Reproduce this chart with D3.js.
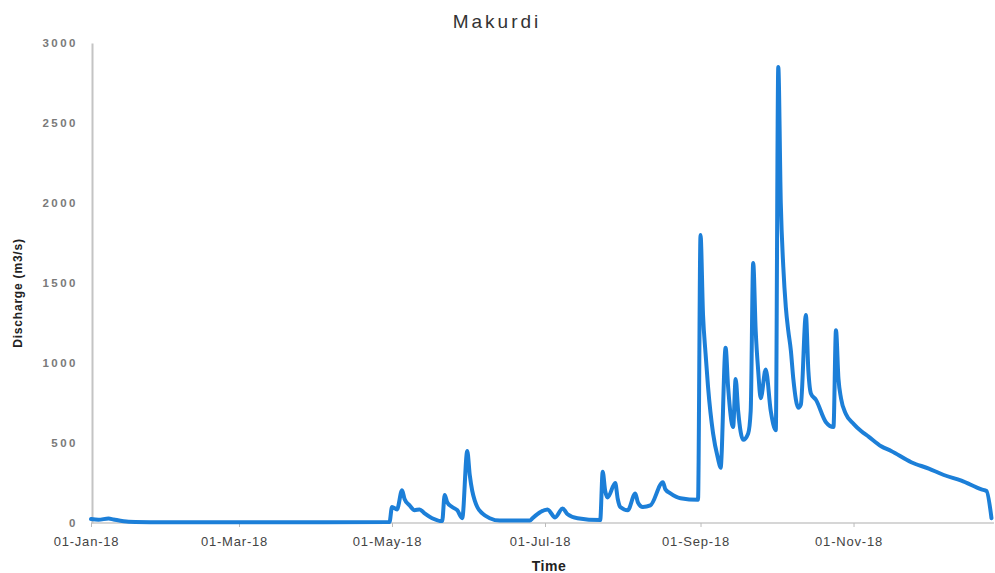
<!DOCTYPE html>
<html><head><meta charset="utf-8">
<script src="https://cdn.jsdelivr.net/npm/d3@7"></script>
<style>
body{margin:0;background:#fff;}
svg{display:block;}
</style></head>
<body><svg id="c" width="995" height="573"></svg>
<script>
const title = "Makurdi";
const yLabel = "Discharge (m3/s)";
const xLabel = "Time";
const yTicks = [0, 500, 1000, 1500, 2000, 2500, 3000];
const xTickDates = ["2018-01-01","2018-03-01","2018-05-01","2018-07-01","2018-09-01","2018-11-01"];
const dates = [
 "2018-01-01","2018-01-04","2018-01-08","2018-01-10","2018-01-16","2018-01-28","2018-03-01","2018-04-01","2018-04-30",
 "2018-05-01","2018-05-03","2018-05-05","2018-05-06","2018-05-08","2018-05-10","2018-05-12","2018-05-14","2018-05-17","2018-05-21","2018-05-22",
 "2018-05-23","2018-05-25","2018-05-27","2018-05-29","2018-05-31","2018-06-01","2018-06-02","2018-06-03","2018-06-04","2018-06-06","2018-06-09","2018-06-13",
 "2018-06-25","2018-06-26","2018-07-02","2018-07-05","2018-07-08","2018-07-10","2018-07-14","2018-07-23","2018-07-24","2018-07-25","2018-07-26",
 "2018-07-29","2018-07-30","2018-07-31","2018-08-03","2018-08-06","2018-08-07","2018-08-09","2018-08-12","2018-08-17","2018-08-18","2018-08-20","2018-08-24",
 "2018-08-31","2018-09-01","2018-09-02","2018-09-03","2018-09-04","2018-09-06","2018-09-08","2018-09-09","2018-09-11","2018-09-12","2018-09-14","2018-09-15","2018-09-16","2018-09-18",
 "2018-09-20","2018-09-21","2018-09-22","2018-09-23","2018-09-24","2018-09-25","2018-09-27","2018-09-29","2018-10-01","2018-10-02","2018-10-03","2018-10-04",
 "2018-10-05","2018-10-06","2018-10-07","2018-10-08","2018-10-10","2018-10-11","2018-10-13","2018-10-14","2018-10-15","2018-10-17","2018-10-21","2018-10-24",
 "2018-10-25","2018-10-26","2018-10-27","2018-10-29","2018-11-01","2018-11-04","2018-11-07","2018-11-12","2018-11-16","2018-11-24","2018-12-01",
 "2018-12-07","2018-12-14","2018-12-22","2018-12-24","2018-12-26"
];
const discharge = [
 25,20,28,22,8,5,4,5,6,
 100,85,205,150,110,80,85,60,30,12,175,
 130,100,80,30,450,300,200,140,100,60,30,15,
 15,30,85,35,90,55,30,18,320,200,160,
 250,150,100,80,185,130,100,110,255,210,185,155,
 145,1800,1300,1060,850,560,400,345,1095,850,600,900,700,520,
 560,700,1625,1200,950,780,960,700,580,2850,2000,1600,
 1350,1200,1080,900,720,740,1300,950,810,770,630,600,
 1205,900,780,680,620,575,540,480,450,380,340,
 300,265,210,200,30
];

const parse = d3.timeParse("%Y-%m-%d");
const data = dates.map((d,i)=>({date: parse(d), v: discharge[i]}));
const svg = d3.select("#c");

const x = d3.scaleTime().domain([parse("2018-01-01"), parse("2018-12-27")]).range([91, 994]);
const y = d3.scaleLinear().domain([0, 3000]).range([523, 43]);

// y axis
const ya = svg.append("g").attr("transform","translate(92,0)")
  .call(d3.axisLeft(y).tickValues(yTicks).tickSize(0).tickPadding(14).tickFormat(d3.format("d")));
ya.select(".domain").attr("stroke","#c4c4c4").attr("stroke-width",2);
ya.selectAll("text").attr("font-family","Liberation Sans, Arial, sans-serif")
  .attr("font-size",11.5).attr("font-weight","bold").attr("fill","#7a7a7a")
  .attr("letter-spacing","2.5px");

// x axis
const xa = svg.append("g").attr("transform","translate(0,523)")
  .call(d3.axisBottom(x).tickValues(xTickDates.map(parse)).tickSize(4).tickPadding(10)
    .tickFormat(d3.timeFormat("%d-%b-%y")));
xa.select(".domain").attr("stroke","#c8c8c8").attr("stroke-width",1.5).attr("d","M91,0H994");
xa.selectAll(".tick line").attr("stroke","#bbbbbb");
xa.selectAll("text").attr("font-family","Liberation Sans, Arial, sans-serif")
  .attr("font-size",13).attr("fill","#444").attr("dx",-5).attr("letter-spacing","0.8px");

// line
svg.append("path").datum(data)
  .attr("fill","none").attr("stroke","#1c7fd8").attr("stroke-width",4)
  .attr("stroke-linejoin","round").attr("stroke-linecap","round")
  .attr("d", d3.line().x(d=>x(d.date)).y(d=>y(d.v)).curve(d3.curveMonotoneX));

// title
svg.append("text").attr("x",497).attr("y",28).attr("text-anchor","middle")
  .attr("font-family","Liberation Sans, Arial, sans-serif").attr("font-size",19)
  .attr("letter-spacing","3px").attr("fill","#333").text(title);

// y label
svg.append("text").attr("transform","translate(22,293) rotate(-90)").attr("text-anchor","middle")
  .attr("font-family","Liberation Sans, Arial, sans-serif").attr("font-size",12)
  .attr("font-weight","bold").attr("letter-spacing","0.8px").attr("fill","#222").text(yLabel);

// x label
svg.append("text").attr("x",549).attr("y",571).attr("text-anchor","middle")
  .attr("font-family","Liberation Sans, Arial, sans-serif").attr("font-size",14)
  .attr("font-weight","bold").attr("letter-spacing","0.5px").attr("fill","#222").text(xLabel);
</script></body></html>
